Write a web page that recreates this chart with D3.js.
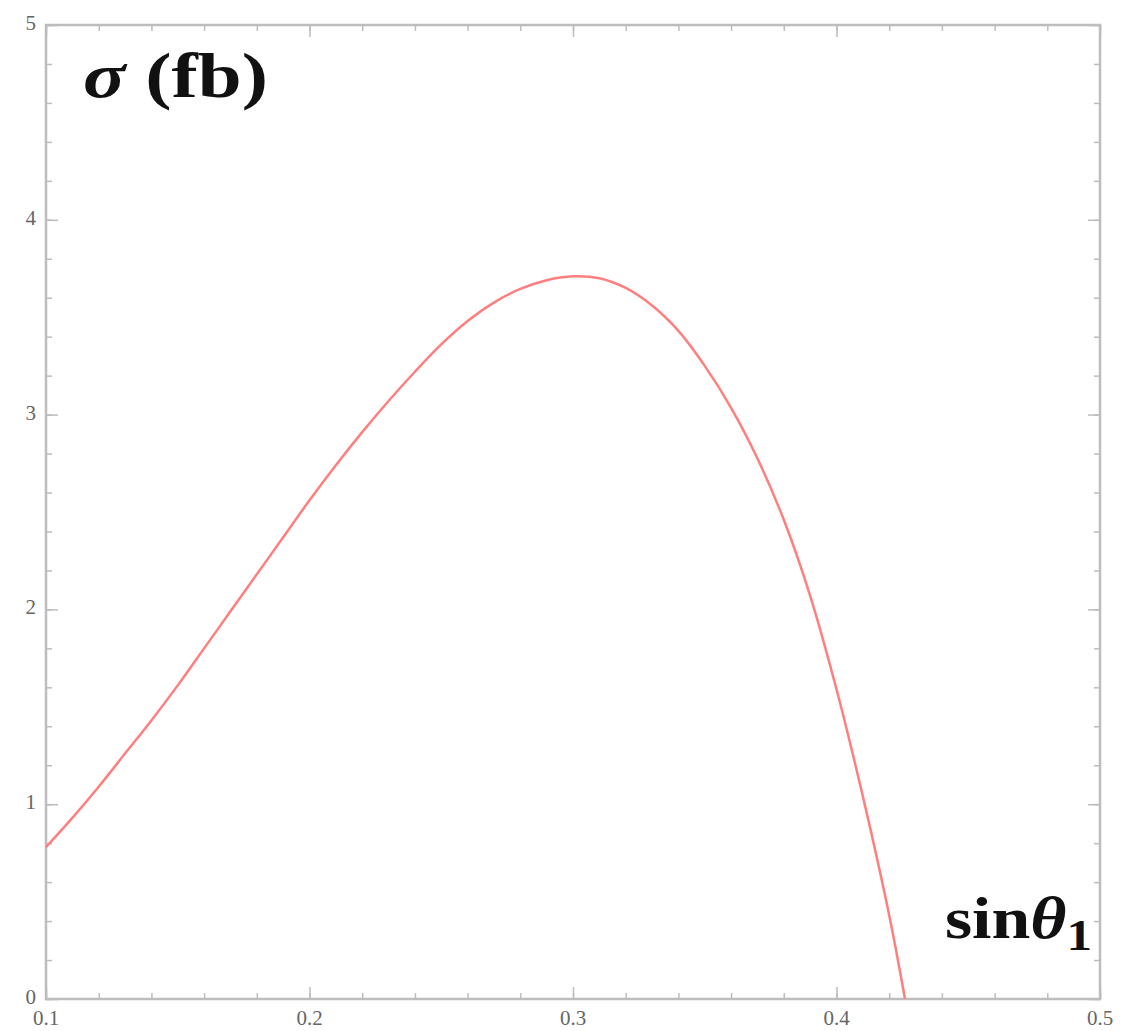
<!DOCTYPE html>
<html>
<head>
<meta charset="utf-8">
<script src="https://cdn.jsdelivr.net/npm/d3@7"></script>
<style>
  body { margin: 0; background: #fff; }
  svg { display: block; }
</style>
</head>
<body>
<svg id="chart" width="1121" height="1031"></svg>
<script>
const svg = d3.select("#chart");

// values
const sinTheta = [0.10, 0.11, 0.12, 0.13, 0.14, 0.15, 0.16, 0.17, 0.18, 0.19,
  0.20, 0.21, 0.22, 0.23, 0.24, 0.25, 0.26, 0.27, 0.28, 0.29,
  0.30, 0.31, 0.32, 0.33, 0.34, 0.35, 0.36, 0.37, 0.38, 0.39,
  0.40, 0.41, 0.42, 0.426];
const sigma = [0.78, 0.93, 1.09, 1.26, 1.43, 1.61, 1.80, 1.99, 2.18, 2.37,
  2.56, 2.74, 2.91, 3.07, 3.22, 3.36, 3.48, 3.575, 3.645, 3.69,
  3.71, 3.70, 3.65, 3.56, 3.43, 3.25, 3.035, 2.775, 2.46, 2.07,
  1.59, 1.04, 0.43, 0.0];

const xTicks = [0.1, 0.2, 0.3, 0.4, 0.5];
const yTicks = [0, 1, 2, 3, 4, 5];

const mLeft = 46, mRight = 1100, mTop = 25, mBottom = 999;

const x = d3.scaleLinear().domain([0.1, 0.5]).range([mLeft, mRight]);
const y = d3.scaleLinear().domain([0, 5]).range([mBottom, mTop]);

const xMinor = d3.range(0.1, 0.5001, 0.02);
const yMinor = d3.range(0, 5.001, 0.2);

const frameColor = "#bdbdbd";

// ticks (major + minor) on all four sides, Mathematica style
function tickAxis(axisFn, scale, ticks, minor, transform) {
  svg.append("g")
    .attr("transform", transform)
    .call(axisFn(scale).tickValues(minor).tickSize(6).tickFormat(""))
    .call(g => g.select(".domain").remove())
    .call(g => g.selectAll("line").attr("stroke", frameColor).attr("stroke-width", 1.5));
  svg.append("g")
    .attr("transform", transform)
    .call(axisFn(scale).tickValues(ticks).tickSize(12).tickFormat(""))
    .call(g => g.select(".domain").remove())
    .call(g => g.selectAll("line").attr("stroke", frameColor).attr("stroke-width", 1.5));
}
tickAxis(d3.axisTop, x, xTicks, xMinor, `translate(0,${mBottom})`);
tickAxis(d3.axisBottom, x, xTicks, xMinor, `translate(0,${mTop})`);
tickAxis(d3.axisRight, y, yTicks, yMinor, `translate(${mLeft},0)`);
tickAxis(d3.axisLeft, y, yTicks, yMinor, `translate(${mRight},0)`);

// frame
svg.append("rect")
  .attr("x", mLeft).attr("y", mTop)
  .attr("width", mRight - mLeft).attr("height", mBottom - mTop)
  .attr("fill", "none")
  .attr("stroke", frameColor)
  .attr("stroke-width", 2.5);

// tick labels
svg.selectAll("text.xlab")
  .data(xTicks)
  .join("text")
  .attr("class", "xlab")
  .attr("x", d => x(d))
  .attr("y", mBottom + 26)
  .attr("text-anchor", "middle")
  .style("font-family", "Liberation Serif, serif")
  .style("font-size", "21px")
  .style("fill", "#666")
  .text(d => d3.format(".1f")(d));

svg.selectAll("text.ylab")
  .data(yTicks)
  .join("text")
  .attr("class", "ylab")
  .attr("x", 36)
  .attr("y", d => y(d) + 5)
  .attr("text-anchor", "end")
  .style("font-family", "Liberation Serif, serif")
  .style("font-size", "21px")
  .style("fill", "#666")
  .text(d => d);

// curve
const pts = sinTheta.map((s, i) => [s, sigma[i]]);
svg.append("path")
  .datum(pts)
  .attr("fill", "none")
  .attr("stroke", "#ff7f7f")
  .attr("stroke-width", 2.5)
  .attr("d", d3.line().x(d => x(d[0])).y(d => y(d[1])).curve(d3.curveCatmullRom.alpha(0.5)));

// axis titles inside the frame
const yTitle = svg.append("text")
  .attr("x", 83)
  .attr("y", 97)
  .attr("textLength", 185)
  .attr("lengthAdjust", "spacingAndGlyphs")
  .style("font-family", "Liberation Serif, serif")
  .style("font-weight", "bold")
  .style("font-size", "64px")
  .style("fill", "#111");
yTitle.append("tspan").style("font-style", "italic").text("σ");
yTitle.append("tspan").text(" (fb)");

const xTitle = svg.append("text")
  .attr("x", 945)
  .attr("y", 938)
  .attr("textLength", 147)
  .attr("lengthAdjust", "spacingAndGlyphs")
  .style("font-family", "Liberation Serif, serif")
  .style("font-weight", "bold")
  .style("font-size", "60px")
  .style("fill", "#111");
xTitle.append("tspan").text("sin");
xTitle.append("tspan").style("font-style", "italic").text("θ");
xTitle.append("tspan").attr("dy", 12).style("font-size", "44px").text("1");
</script>
</body>
</html>
